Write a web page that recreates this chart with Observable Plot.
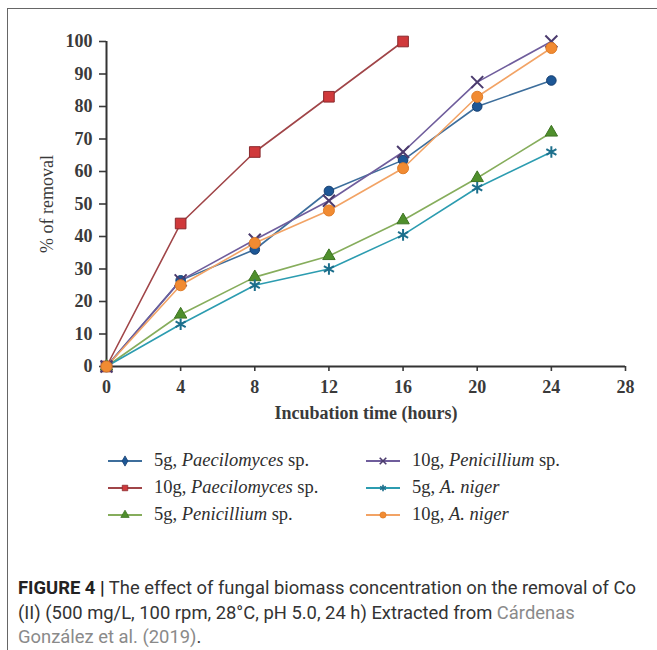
<!DOCTYPE html>
<html>
<head>
<meta charset="utf-8">
<script src="https://cdn.jsdelivr.net/npm/d3@7"></script>
<script src="https://cdn.jsdelivr.net/npm/@observablehq/plot@0.6"></script>
<style>
  html, body { margin: 0; padding: 0; background: #fff; }
  #wrap { position: relative; width: 657px; height: 650px; overflow: hidden; }
  #frame { position: absolute; left: 7px; top: 8px; right: -5px; bottom: -5px;
           border-left: 1.5px solid #666; border-top: 1.5px solid #666; }
  #chart { position: absolute; left: 0; top: 0; }
  #chart [aria-label="y-axis label"] { font-weight: normal; }
  #legend { position: absolute; left: 0; top: 447px; width: 657px; height: 84px; }
  .lg { position: absolute; display: flex; align-items: center; height: 27px;
        font-family: "Liberation Serif", serif; font-size: 18.5px; color: #2e2e2e; white-space: nowrap; }
  .lg svg { margin-right: 11px; }
  #caption { position: absolute; left: 18px; top: 576px; width: 640px; white-space: nowrap;
             font-family: "Roboto", sans-serif; font-size: 18.4px; line-height: 24.5px; color: #333; }
  #caption b { color: #222; }
  #caption .ref { color: #8a8a8a; }
</style>
</head>
<body>
<div id="wrap">
  <div id="frame"></div>
  <div id="chart"></div>
  <div id="legend"></div>
  <div id="caption"><b>FIGURE 4 |</b> The effect of fungal biomass concentration on the removal of Co<br>(II) (500 mg/L, 100 rpm, 28°C, pH 5.0, 24 h) Extracted from <span class="ref">Cárdenas</span><br><span class="ref">González et al. (2019)</span>.</div>
</div>
<script>
// ---- data ----
const hours = [0, 4, 8, 12, 16, 20, 24];
const hoursRed = [0, 4, 8, 12, 16];
const paecil5 = [0, 26.5, 36, 54, 63.5, 80, 88];
const paecil10 = [0, 44, 66, 83, 100];
const penic5 = [0, 16, 27.5, 34, 45, 58, 72];
const penic10 = [0, 26.5, 39, 51, 66, 87.5, 100];
const niger5 = [0, 13, 25, 30, 40.5, 55, 66];
const niger10 = [0, 25, 38, 48, 61, 83, 98];
const xTicks = [0, 4, 8, 12, 16, 20, 24, 28];
const yTicks = [0, 10, 20, 30, 40, 50, 60, 70, 80, 90, 100];

const series = [
  {dose: "5g, ", sp: "Paecilomyces", tail: " sp.", xs: hours, ys: paecil5, line: "#3d6e9c", mark: "#1d5796", mstroke: "#173f70", symbol: "circle", filled: true, r: 4.8},
  {dose: "10g, ", sp: "Paecilomyces", tail: " sp.", xs: hoursRed, ys: paecil10, line: "#a04548", mark: "#d0393b", mstroke: "#8a2a2e", symbol: "square", filled: true, r: 6},
  {dose: "5g, ", sp: "Penicillium", tail: " sp.", xs: hours, ys: penic5, line: "#86ad5c", mark: "#4f8f2c", mstroke: "#3e7424", symbol: "triangle", filled: true, r: 4.6},
  {dose: "10g, ", sp: "Penicillium", tail: " sp.", xs: hours, ys: penic10, line: "#6f5d9c", mark: "#4b3b6e", mstroke: "#4b3b6e", symbol: "times", filled: false, r: 5.5},
  {dose: "5g, ", sp: "A. niger", tail: "", xs: hours, ys: niger5, line: "#2c9cb0", mark: "#1d6f8c", mstroke: "#1d6f8c", symbol: "asterisk", filled: false, r: 5.5},
  {dose: "10g, ", sp: "A. niger", tail: "", xs: hours, ys: niger10, line: "#f2a365", mark: "#f18b32", mstroke: "#e07d28", symbol: "circle", filled: true, r: 5.5}
];

const marks = [];
series.forEach(s => {
  const pts = s.xs.map((x, i) => ({x, y: s.ys[i]}));
  marks.push(Plot.line(pts, {x: "x", y: "y", stroke: s.line, strokeWidth: 1.6}));
});
series.forEach(s => {
  const pts = s.xs.map((x, i) => ({x, y: s.ys[i]}));
  marks.push(Plot.dot(pts, s.filled
    ? {x: "x", y: "y", symbol: () => s.symbol, r: s.r, fill: s.mark, stroke: s.mstroke, strokeWidth: 1}
    : {x: "x", y: "y", symbol: () => s.symbol, r: s.r, fill: "none", stroke: s.mark, strokeWidth: 2}));
});

const chart = Plot.plot({
  width: 657,
  height: 430,
  marginLeft: 106,
  marginRight: 32,
  marginTop: 41,
  marginBottom: 64,
  x: {type: "linear", domain: [0, 28]},
  y: {type: "linear", domain: [0, 100]},
  symbol: {type: "identity"},
  style: {fontFamily: "Liberation Serif, serif", fontSize: "18px", color: "#3a3a3a", background: "transparent", overflow: "visible"},
  marks: [
    Plot.axisX({ticks: xTicks, tickSize: 5, tickPadding: 9, strokeWidth: 1.6, fontWeight: "bold",
      label: "Incubation time (hours)", labelAnchor: "center", labelOffset: 52, labelArrow: "none"}),
    Plot.axisY({ticks: yTicks, tickSize: 7, tickPadding: 7, strokeWidth: 1.6, fontWeight: "bold",
      label: "% of removal", labelAnchor: "center", labelOffset: 66, labelArrow: "none"}),
    Plot.ruleY([0], {stroke: "#333", strokeWidth: 2}),
    Plot.ruleX([0], {stroke: "#333", strokeWidth: 2}),
    ...marks
  ]
});
document.getElementById("chart").appendChild(chart);

// ---- legend ----
const legend = document.getElementById("legend");
const positions = [[107, 0], [107, 27], [107, 54], [365, 0], [365, 27], [365, 54]];
series.forEach((s, i) => {
  const item = document.createElement("div");
  item.className = "lg";
  item.style.left = positions[i][0] + "px";
  item.style.top = positions[i][1] + "px";
  const svg = d3.create("svg").attr("width", 36).attr("height", 14);
  svg.append("line").attr("x1", 1).attr("x2", 35).attr("y1", 7).attr("y2", 7)
    .attr("stroke", s.line).attr("stroke-width", 2);
  const sym = {circle: d3.symbolCircle, square: d3.symbolSquare, triangle: d3.symbolTriangle,
               times: d3.symbolTimes, asterisk: d3.symbolAsterisk}[s.symbol];
  const sz = s.symbol === "circle" && i === 0 ? d3.symbolDiamond : sym;
  svg.append("path").attr("transform", "translate(18,7)")
    .attr("d", d3.symbol(sz, 30)())
    .attr("fill", s.filled ? s.mark : "none")
    .attr("stroke", s.filled ? s.mstroke : s.mark).attr("stroke-width", s.filled ? 0.8 : 1.6);
  item.appendChild(svg.node());
  const t = document.createElement("span");
  t.innerHTML = s.dose + "<i>" + s.sp + "</i>" + s.tail;
  item.appendChild(t);
  legend.appendChild(item);
});
</script>
</body>
</html>
